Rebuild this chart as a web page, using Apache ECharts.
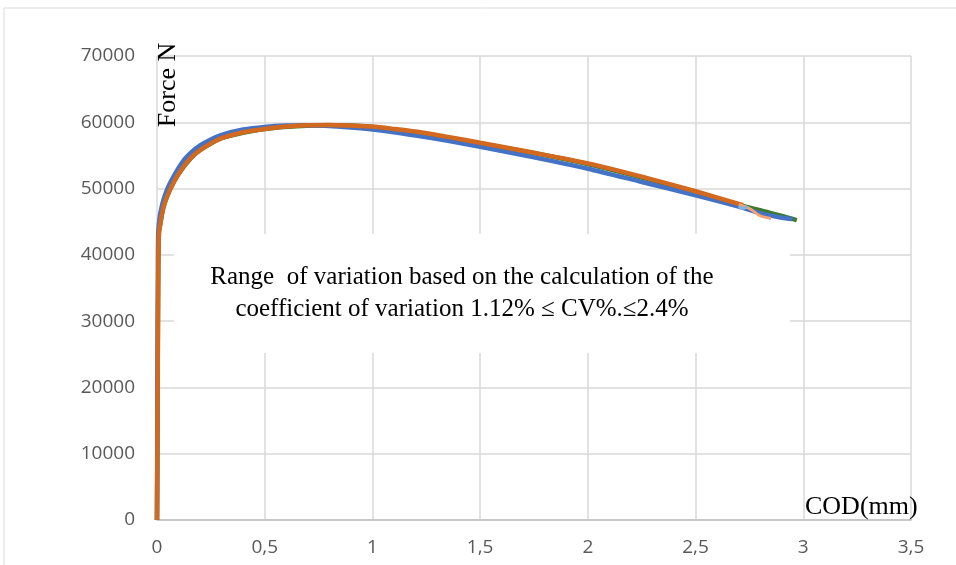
<!DOCTYPE html>
<html><head><meta charset="utf-8">
<script src="https://cdn.jsdelivr.net/npm/echarts@6/dist/echarts.min.js"></script>
<style>html,body{margin:0;padding:0;background:#fff}#c{width:956px;height:565px}</style>
</head><body><div id="c"></div>
<script>
// COD (mm) and Force (N) readings for each specimen curve
const blueCurve = [
  [0,0],[0.002,20000],[0.004,38000],[0.006,43500],[0.012,45600],[0.02,47000],[0.03,48300],[0.045,49700],[0.06,50800],
  [0.08,52000],[0.1,53100],[0.13,54500],[0.16,55500],[0.2,56500],[0.25,57400],[0.3,58100],[0.4,58900],[0.5,59300],
  [0.6,59500],[0.7,59550],[0.8,59450],[0.9,59200],[1.0,58900],[1.1,58500],[1.2,58000],[1.35,57200],[1.5,56300],
  [1.75,54700],[2.0,53000],[2.25,51000],[2.5,49000],[2.7,47300],[2.8,46300],[2.9,45600],[2.95,45400]
];
const orangeCurve = [
  [0,0],[0.003,20000],[0.006,38000],[0.009,43300],[0.015,44600],[0.022,46000],[0.03,47200],[0.045,48700],[0.06,49800],
  [0.08,51100],[0.1,52200],[0.13,53600],[0.16,54700],[0.2,55800],[0.25,56800],[0.3,57600],[0.4,58500],[0.5,59000],
  [0.6,59350],[0.7,59550],[0.8,59600],[0.9,59500],[1.0,59350],[1.1,59000],[1.2,58600],[1.35,57800],[1.5,56900],
  [1.75,55400],[2.0,53800],[2.25,51800],[2.5,49600],[2.72,47500]
];
const greenCurve = [
  [0,0],[0.003,20000],[0.006,38000],[0.009,43300],[0.015,44600],[0.03,47200],[0.06,49800],[0.1,52200],[0.16,54700],
  [0.2,55800],[0.3,57600],[0.5,59000],[0.8,59550],[1.0,59300],[1.5,56800],[2.0,53700],[2.5,49500],[2.72,47400],
  [2.85,46300],[2.97,45250]
];
const salmonCurve = [[2.7,47600],[2.75,47000],[2.8,45900],[2.85,45500]];
const lightBlueCurve = [[2.7,47300],[2.72,47000],[2.74,47300]];

const xTicks = ['0','0,5','1','1,5','2','2,5','3','3,5'];
const yTicks = ['0','10000','20000','30000','40000','50000','60000','70000'];

const noteLine1 = 'Range  of variation based on the calculation of the';
const noteLine2 = 'coefficient of variation 1.12% \u2264 CV%.\u22642.4%';

const chart = echarts.init(document.getElementById('c'));
const serif = 'Liberation Serif';
const sans = 'Open Sans';
function line(data, color, w, z){
  return {type:'line', data:data, showSymbol:false, smooth:0.25, z:z,
    lineStyle:{color:color, width:w}, itemStyle:{color:color}};
}
chart.setOption({
  animation:false,
  backgroundColor:'#fff',
  grid:{left:157, right:45, top:56, bottom:45, containLabel:false},
  xAxis:{type:'value', min:0, max:3.5, interval:0.5,
    axisLine:{show:true, onZero:false, lineStyle:{color:'#BFBFBF', width:1.5}},
    axisTick:{show:false},
    axisLabel:{color:'#595959', fontFamily:sans, fontSize:19, margin:18,
      formatter:function(v){return xTicks[Math.round(v/0.5)];}},
    splitLine:{show:true, lineStyle:{color:'#D9D9D9', width:1.5}}},
  yAxis:{type:'value', min:0, max:70000, interval:10000,
    axisLine:{show:false}, axisTick:{show:false},
    axisLabel:{color:'#595959', fontFamily:sans, fontSize:19, margin:22,
      formatter:function(v){return yTicks[Math.round(v/10000)];}},
    splitLine:{show:true, lineStyle:{color:'#D9D9D9', width:1.5}}},
  series:[
    line(greenCurve,'#3E7A2E',4.5,2),
    line(blueCurve,'#4472C4',4.5,3),
    line(orangeCurve,'#D2691E',4.5,4),
    line(salmonCurve,'#F4A070',3,5),
    line(lightBlueCurve,'#7FB2E5',3,6)
  ],
  graphic:[
    {type:'rect', shape:{x:4, y:8, width:1000, height:600}, style:{fill:'none', stroke:'#D9D9D9', lineWidth:1}, z:-10, silent:true},
    {type:'rect', shape:{x:174, y:234, width:616, height:119}, style:{fill:'#fff'}, z:50, silent:true},
    {type:'text', x:462, y:277, z:51, style:{text:noteLine1, font:'25px "'+serif+'"', fill:'#000', align:'center', verticalAlign:'middle'}},
    {type:'text', x:462, y:309, z:51, style:{text:noteLine2, font:'25px "'+serif+'"', fill:'#000', align:'center', verticalAlign:'middle'}},
    {type:'text', x:168, y:85, rotation:Math.PI/2, z:51, style:{text:'Force N', font:'26px "'+serif+'"', fill:'#000', align:'center', verticalAlign:'middle'}},
    {type:'text', x:805, y:507, z:51, style:{text:'COD(mm)', font:'26px "'+serif+'"', fill:'#000', align:'left', verticalAlign:'middle'}}
  ]
});
</script></body></html>
